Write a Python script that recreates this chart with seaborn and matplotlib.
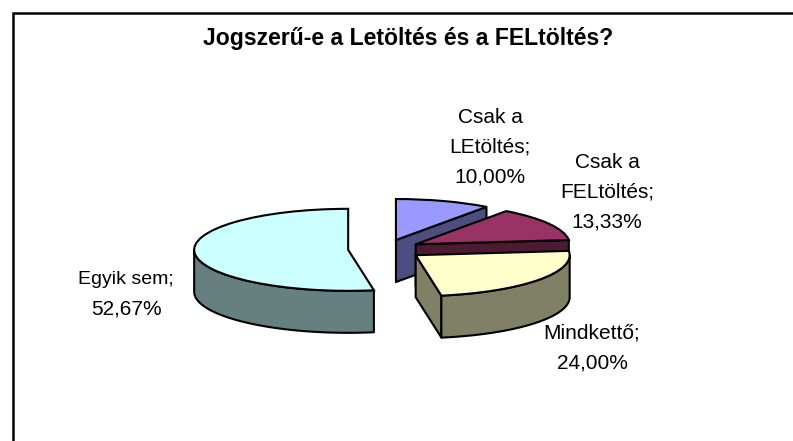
import numpy as np
import seaborn as sns
import matplotlib.pyplot as plt
from matplotlib.patches import Polygon

names = [["Csak a", "LEtöltés;"], ["Csak a", "FELtöltés;"], ["Mindkettő;"], ["Egyik sem;"]]
values = [10.00, 13.33, 24.00, 52.67]
explode = [0.23, 0.23, 0.25, 0.24]
top_colors = ["#9999FF", "#993366", "#FFFFCC", "#CCFFFF"]
wall_colors = ["#4D4D80", "#4D1A33", "#808066", "#668080"]
title = "Jogszerű-e a Letöltés és a FELtöltés?"

W, H = 793, 441
CX, CY = 385, 249     # pie centre in pixels
RX, RY = 154, 41      # ellipse radii in pixels
DEPTH = 42 / RY       # wall height in data units
LW = 1.5

sns.set_theme(style="white")
plt.rcParams['font.family'] = ['Liberation Sans', 'DejaVu Sans']

fig = plt.figure(figsize=(W / 100, H / 100), dpi=100, facecolor="white")
ax = fig.add_axes([0, 0, 1, 1])

wedges, _ = ax.pie(values, explode=explode, colors=top_colors, startangle=90,
                   counterclock=False, wedgeprops=dict(edgecolor="black", linewidth=LW))


def rim(w, angle):
  a = np.radians(angle)
  return np.array([w.center[0] + w.r * np.cos(a), w.center[1] + w.r * np.sin(a)])


def extrude(pts):
  pts = np.asarray(pts)
  return np.vstack([pts, pts[::-1] - [0, DEPTH]])


# walls, back slices first
for i, w in enumerate(wedges):
  z = 1 + i * 2
  apex = np.array(w.center)
  faces = []
  # cut faces that look towards the viewer
  for angle, sign in ((w.theta1, -1), (w.theta2, 1)):
    if sign * np.cos(np.radians(angle)) < -1e-6:
      faces.append(extrude([apex, rim(w, angle)]))
  # outer band, only the lower half of the ellipse shows
  t1, t2 = w.theta1 % 360, w.theta1 % 360 + (w.theta2 - w.theta1)
  lo, hi = max(t1, 180), min(t2, 360)
  if hi > lo:
    arc = np.array([rim(w, t) for t in np.linspace(lo, hi, 80)])
    faces.append(extrude(arc))
  for f in faces:
    ax.add_patch(Polygon(f, closed=True, facecolor=wall_colors[i], edgecolor="black",
                         linewidth=LW, joinstyle="round", zorder=z))
  w.set_zorder(z + 1)

ax.set_aspect("auto")
ax.set_xlim(-CX / RX, (W - CX) / RX)
ax.set_ylim((CY - H) / RY, CY / RY)
ax.axis("off")

# chart frame, cropped at the bottom and right of the image
fig.add_artist(plt.Line2D([12.5 / W, 12.5 / W, 1], [0, 1 - 12.5 / H, 1 - 12.5 / H],
                          color="black", lw=1.8, solid_joinstyle="miter",
                          transform=fig.transFigure))

fig.text(408 / W, 1 - 39 / H, title, fontsize=16.6, fontweight="bold", color="black",
         ha="center", va="center")

# label block centres, lines are 30 px apart
label_pos = [(490, 147), (607, 192), (592, 348), (126, 294)]
name_size = [15, 15, 15, 14]  # "Egyik sem;" is set tight in the reference
for name, v, (x, y), size in zip(names, values, label_pos, name_size):
  lines = name + [f"{v:.2f}%".replace(".", ",")]
  y0 = y - 30 * (len(lines) - 1) / 2
  for k, line in enumerate(lines):
    fs = size if k < len(name) else 15
    fig.text(x / W, 1 - (y0 + 30 * k) / H, line, fontsize=fs, color="black",
             ha="center", va="center")

fig.savefig("out.png", dpi=100)
